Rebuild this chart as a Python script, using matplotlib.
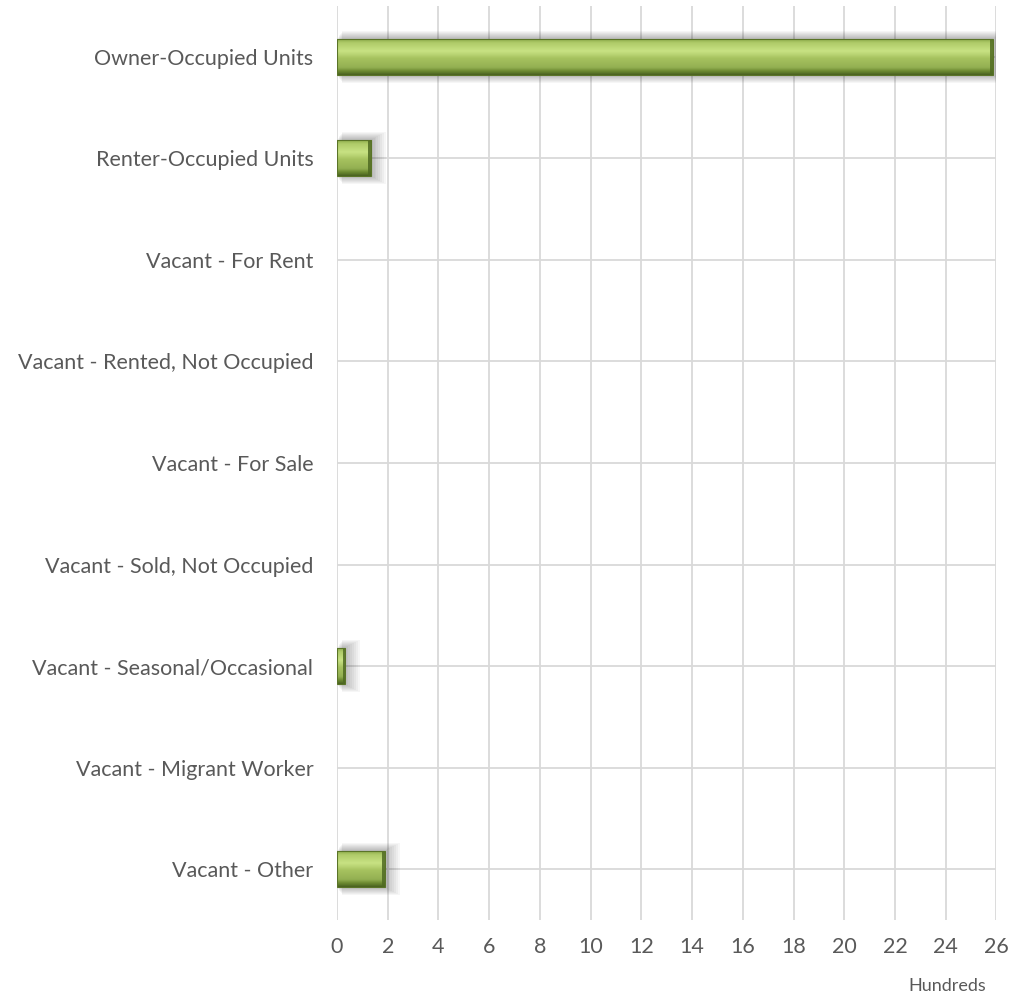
import matplotlib
matplotlib.use("Agg")
import matplotlib.pyplot as plt
import numpy as np
from matplotlib.colors import LinearSegmentedColormap
from matplotlib.patches import Rectangle

categories = [
    "Owner-Occupied Units",
    "Renter-Occupied Units",
    "Vacant - For Rent",
    "Vacant - Rented, Not Occupied",
    "Vacant - For Sale",
    "Vacant - Sold, Not Occupied",
    "Vacant - Seasonal/Occasional",
    "Vacant - Migrant Worker",
    "Vacant - Other",
]
values = [25.86, 1.36, 0, 0, 0, 0, 0.33, 0, 1.91]  # hundreds of units
xticks = list(range(0, 27, 2))

text_color = "#595959"
grid_color = "#D9D9D9"
font = "Lato"

fig = plt.figure(figsize=(10.19, 9.98), dpi=100)
ax = fig.add_axes([0.3307, 0.0782, 0.6472, 0.9158])

y = np.arange(len(categories))
ax.set_xlim(0, 26)
ax.set_ylim(len(categories) - 0.5, -0.5)

ax.set_xticks(xticks)
ax.set_yticks(y)
ax.set_yticklabels(categories, fontsize=15.5, color=text_color, family=font)
ax.set_xticklabels([str(t) for t in xticks], fontsize=15.5, color=text_color, family=font)
ax.tick_params(axis="both", length=0)
ax.tick_params(axis="y", pad=17)
ax.tick_params(axis="x", pad=12)
ax.grid(True, color=grid_color, linewidth=1.3)
ax.set_axisbelow(True)
for s in ax.spines.values():
    s.set_visible(False)

bar_h = 0.355
bars = ax.barh(y, values, height=bar_h, color="#9BBB59", zorder=3, linewidth=0)

grad_cmap = LinearSegmentedColormap.from_list(
    "bevel",
    [(0.0, "#86A443"), (0.12, "#AFCB69"), (0.35, "#C8E283"), (0.55, "#A6C25F"),
     (0.8, "#93B052"), (0.9, "#6C8A31"), (1.0, "#4A6220")])
grad = np.linspace(0, 1, 64).reshape(-1, 1)

for b in bars:
    w = b.get_width()
    if w <= 0:
        continue
    x0, y0, h = b.get_x(), b.get_y(), b.get_height()
    # soft shadow
    for k in range(8):
        off = 0.01 * (k + 1)
        sh = Rectangle((x0 + 0.03 * k, y0 - off), w + 0.045 * (k + 1), h + 2 * off,
                       facecolor="black", alpha=0.035, linewidth=0, zorder=2)
        ax.add_patch(sh)
    im = ax.imshow(grad, cmap=grad_cmap, aspect="auto",
                   extent=(x0, x0 + w, y0 + h, y0), zorder=4,
                   interpolation="bilinear")
    im.set_clip_path(b)
    ew = min(0.12, w * 0.25)
    ax.add_patch(Rectangle((x0 + w - ew, y0), ew, h, facecolor="#4F6A22",
                           alpha=0.85, linewidth=0, zorder=5))
    ax.add_patch(Rectangle((x0, y0), min(0.05, w * 0.1), h, facecolor="#7E9C3F",
                           alpha=0.8, linewidth=0, zorder=5))
    ax.add_patch(Rectangle((x0, y0), w, h, fill=False, edgecolor="#5A7428",
                           linewidth=0.8, zorder=6))

ax.set_xlim(0, 26)
ax.set_ylim(len(categories) - 0.5, -0.5)

fig.text(986 / 1019, 1 - 986 / 998, "Hundreds", ha="right", va="center",
         fontsize=13, color=text_color, family=font)

fig.savefig("out.png", dpi=100)
